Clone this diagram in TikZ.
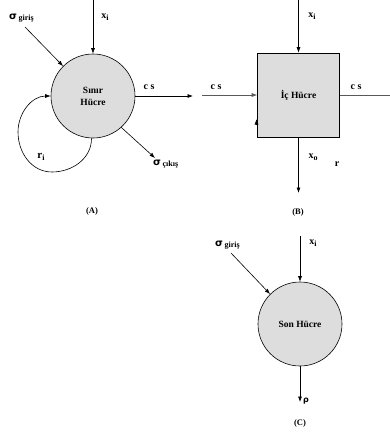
\documentclass[tikz,border=0pt]{standalone}
\usepackage{fontspec}
\setmainfont{Liberation Serif}
\newfontfamily\symf{DejaVu Sans}
\usetikzlibrary{arrows.meta}
\definecolor{cellgray}{RGB}{221,221,221}
\tikzset{
  lab/.style={font=\bfseries\fontsize{10}{11}\selectfont, inner sep=0pt},
  captext/.style={font=\bfseries\fontsize{8.5}{10}\selectfont, inner sep=0pt},
  arr/.style={-{Latex[length=5.5pt,width=4pt]}, line width=0.6pt},
  garr/.style={arr, draw=black!65},
  cell/.style={draw, fill=cellgray, line width=0.6pt, inner sep=0pt,
    font=\bfseries\fontsize{9.5}{12}\selectfont, align=center},
  roundcell/.style={cell, circle, minimum size=84pt},
  boxcell/.style={cell, rectangle, minimum width=82pt, minimum height=84pt}
}
\newcommand{\sig}{{\symf\bfseries σ}}
\newcommand{\lsub}[1]{\raisebox{-0.35ex}{\fontsize{8}{9}\selectfont #1}}
\begin{document}
\begin{tikzpicture}[x=1pt,y=-1pt]
\useasboundingbox (0,0) rectangle (390,433);
% ---------- (A) ----------
\node[roundcell] (A) at (93,96) {Sınır\\Hücre};
\coordinate (axi) at (93,0);
\coordinate (asg) at (25,27);
\coordinate (acs) at (193,96);
\coordinate (asc) at (155,158);
\draw[arr] (axi) -- (A.north);
\draw[arr] (asg) -- (A.135);
\draw[arr] (A.east) -- (acs);
\draw[arr] (A.-48) -- (asc);
\draw[arr] (A.268) to[out=-90,in=0] (52,172) to[out=180,in=-90] (18,132) to[out=90,in=180] (A.west);
\node[lab] (laxi) at (105,17) {x\lsub{i}};
\node[lab, anchor=west] (lasg) at (9,18) {\sig\,\lsub{giriş}};
\node[lab] (lacs) at (149,87) {c s};
\node[lab, anchor=west] (lasc) at (153,164) {\sig\,\lsub{çıkış}};
\node[lab, font=\bfseries\fontsize{11}{12}\selectfont] (lari) at (41,157) {r\lsub{i}};
\node[captext] (capA) at (92,211) {(A)};
% ---------- (B) ----------
\node[boxcell] (B) at (298.5,95) {İç Hücre};
\coordinate (bxi) at (298.5,0);
\coordinate (bcsin) at (202,95);
\coordinate (bcsout) at (390,95);
\coordinate (bxo) at (298.5,193);
\coordinate (bsmall) at (256.5,125);
\coordinate (bsmallend) at (256.5,119);
\draw[arr] (bxi) -- (B.north);
\draw[garr] (bcsin) -- (B.west);
\draw[line width=0.6pt, draw=black!65] (B.east) -- (bcsout);
\draw[arr] (B.south) -- (bxo);
\draw[arr] (bsmall) -- (bsmallend);
\node[lab] (lbxi) at (312,16) {x\lsub{i}};
\node[lab] (lbcs1) at (216,87) {c s};
\node[lab] (lbcs2) at (356,87) {c s};
\node[lab] (lbxo) at (313,157) {x\lsub{o}};
\node[lab] (lbr) at (337,164) {r};
\node[captext] (capB) at (298,212) {(B)};
% ---------- (C) ----------
\node[roundcell] (C) at (300,324) {Son Hücre};
\coordinate (cxi) at (300,236);
\coordinate (csg) at (231,253);
\coordinate (crho) at (300,402);
\draw[arr] (cxi) -- (C.north);
\draw[arr] (csg) -- (C.135);
\draw[arr] (C.south) -- (crho);
\node[lab] (lcxi) at (313,243) {x\lsub{i}};
\node[lab, anchor=west] (lcsg) at (215,245) {\sig\,\lsub{giriş}};
\node[lab, anchor=west] (lcrho) at (303,401) {{\symf\bfseries\fontsize{8}{9}\selectfont ρ}};
\node[captext] (capC) at (300,423) {(C)};
\end{tikzpicture}
\end{document}
